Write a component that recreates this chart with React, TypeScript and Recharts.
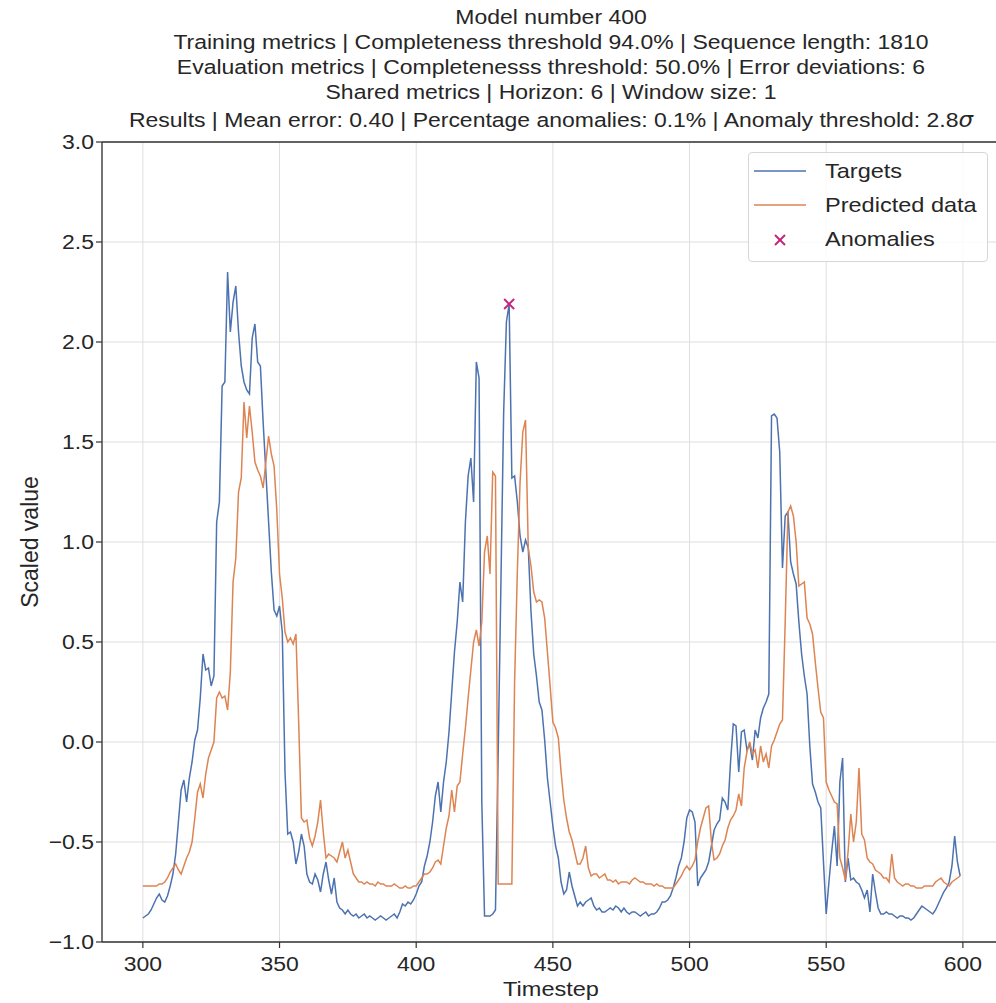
import { ComposedChart, Line, Scatter, XAxis, YAxis, CartesianGrid, ReferenceLine } from 'recharts'

// 時系列の先頭ステップ
const FIRST_STEP = 300

// 実測値（Targets）
const TARGETS = [
  -0.88, -0.87, -0.86, -0.84, -0.81, -0.78, -0.76, -0.79, -0.80, -0.77,
  -0.72, -0.66, -0.56, -0.40, -0.24, -0.19, -0.30, -0.18, -0.10, 0.01,
  0.06, 0.22, 0.44, 0.36, 0.37, 0.28, 0.33, 1.10, 1.20, 1.78,
  1.80, 2.35, 2.05, 2.20, 2.28, 2.05, 1.88, 1.80, 1.76, 1.74,
  2.02, 2.09, 1.90, 1.88, 1.60, 1.35, 1.10, 0.85, 0.66, 0.63,
  0.68, 0.55, -0.15, -0.46, -0.45, -0.50, -0.61, -0.55, -0.46, -0.52,
  -0.66, -0.70, -0.71, -0.66, -0.69, -0.75, -0.66, -0.60, -0.69, -0.76,
  -0.68, -0.80, -0.83, -0.84, -0.86, -0.84, -0.86, -0.87, -0.86, -0.88,
  -0.87, -0.86, -0.88, -0.87, -0.88, -0.89, -0.88, -0.87, -0.88, -0.89,
  -0.88, -0.87, -0.86, -0.88, -0.85, -0.81, -0.82, -0.80, -0.81, -0.79,
  -0.76, -0.72, -0.70, -0.62, -0.57, -0.50, -0.40, -0.27, -0.20, -0.35,
  -0.20, -0.10, 0.05, 0.25, 0.45, 0.60, 0.80, 0.70, 1.10, 1.33,
  1.42, 1.20, 1.90, 1.82, -0.30, -0.87, -0.87, -0.87, -0.86, -0.84,
  -0.05, 0.80, 1.65, 2.10, 2.19, 1.32, 1.33, 1.20, 1.03, 0.95,
  1.01, 0.97, 0.65, 0.44, 0.33, 0.20, 0.16, 0.01, -0.18, -0.30,
  -0.42, -0.52, -0.58, -0.70, -0.76, -0.74, -0.65, -0.72, -0.77, -0.82,
  -0.80, -0.82, -0.80, -0.79, -0.78, -0.82, -0.84, -0.83, -0.85, -0.85,
  -0.84, -0.83, -0.84, -0.82, -0.83, -0.85, -0.83, -0.85, -0.86, -0.85,
  -0.85, -0.86, -0.87, -0.86, -0.85, -0.87, -0.86, -0.86, -0.85, -0.83,
  -0.80, -0.80, -0.79, -0.77, -0.73, -0.68, -0.62, -0.58, -0.50, -0.38,
  -0.34, -0.35, -0.40, -0.72, -0.68, -0.66, -0.64, -0.60, -0.52, -0.44,
  -0.41, -0.39, -0.28, -0.30, -0.34, -0.10, 0.09, 0.08, -0.15, 0.05,
  0.06, -0.04, -0.01, -0.09, 0.06, 0.02, 0.12, 0.17, 0.20, 0.24,
  1.63, 1.64, 1.62, 1.45, 0.87, 1.13, 1.15, 0.90, 0.84, 0.79,
  0.60, 0.44, 0.33, 0.24, -0.02, -0.21, -0.25, -0.30, -0.33, -0.60,
  -0.86, -0.70, -0.55, -0.42, -0.62, -0.20, -0.08, -0.70, -0.58, -0.69,
  -0.68, -0.70, -0.71, -0.74, -0.78, -0.74, -0.85, -0.66, -0.75, -0.83,
  -0.86, -0.86, -0.85, -0.86, -0.86, -0.87, -0.88, -0.87, -0.87, -0.88,
  -0.88, -0.89, -0.88, -0.86, -0.84, -0.82, -0.83, -0.84, -0.85, -0.86,
  -0.84, -0.81, -0.78, -0.75, -0.73, -0.70, -0.62, -0.47, -0.60, -0.67,
]

// 予測値（Predicted data）
const PREDICTED = [
  -0.72, -0.72, -0.72, -0.72, -0.72, -0.72, -0.71, -0.71, -0.70, -0.68,
  -0.65, -0.63, -0.61, -0.64, -0.66, -0.62, -0.58, -0.55, -0.50, -0.38,
  -0.25, -0.21, -0.28, -0.16, -0.08, -0.04, 0.00, 0.22, 0.25, 0.22,
  0.23, 0.16, 0.35, 0.80, 0.92, 1.25, 1.32, 1.70, 1.52, 1.68,
  1.55, 1.40, 1.36, 1.33, 1.27, 1.40, 1.53, 1.44, 1.38, 1.16,
  0.84, 0.72, 0.55, 0.50, 0.52, 0.49, 0.54, 0.10, -0.38, -0.40,
  -0.39, -0.48, -0.52, -0.47, -0.40, -0.29, -0.45, -0.58, -0.56, -0.57,
  -0.58, -0.60, -0.55, -0.50, -0.58, -0.54, -0.60, -0.66, -0.68, -0.70,
  -0.70, -0.71, -0.70, -0.71, -0.71, -0.72, -0.70, -0.71, -0.71, -0.72,
  -0.72, -0.72, -0.71, -0.72, -0.73, -0.73, -0.72, -0.73, -0.73, -0.72,
  -0.72, -0.70, -0.68, -0.66, -0.66, -0.65, -0.63, -0.60, -0.59, -0.61,
  -0.52, -0.43, -0.37, -0.24, -0.35, -0.22, -0.20, -0.06, 0.07, 0.22,
  0.36, 0.50, 0.56, 0.48, 0.60, 0.95, 1.03, 0.84, 1.35, 1.33,
  -0.71, -0.71, -0.71, -0.71, -0.71, -0.71, 0.30, 0.85, 1.30, 1.55,
  1.61, 0.97, 0.88, 0.75, 0.70, 0.71, 0.70, 0.62, 0.45, 0.28,
  0.10, 0.07, 0.02, -0.15, -0.29, -0.38, -0.45, -0.49, -0.55, -0.61,
  -0.61, -0.58, -0.52, -0.63, -0.67, -0.66, -0.66, -0.68, -0.67, -0.66,
  -0.69, -0.69, -0.70, -0.69, -0.71, -0.70, -0.70, -0.70, -0.71, -0.69,
  -0.68, -0.69, -0.70, -0.70, -0.71, -0.71, -0.71, -0.72, -0.71, -0.72,
  -0.72, -0.73, -0.73, -0.73, -0.73, -0.71, -0.69, -0.67, -0.64, -0.62,
  -0.64, -0.62, -0.59, -0.50, -0.43, -0.38, -0.33, -0.32, -0.50, -0.59,
  -0.58, -0.56, -0.52, -0.49, -0.43, -0.39, -0.37, -0.34, -0.26, -0.32,
  -0.13, -0.05, 0.00, -0.06, -0.04, -0.13, -0.02, -0.10, -0.06, -0.13,
  -0.02, 0.01, 0.05, 0.09, 0.11, 0.60, 1.15, 1.18, 1.13, 1.00,
  0.78, 0.79, 0.80, 0.62, 0.59, 0.54, 0.40, 0.27, 0.15, 0.12,
  -0.20, -0.24, -0.27, -0.30, -0.31, -0.58, -0.63, -0.69, -0.55, -0.36,
  -0.50, -0.40, -0.13, -0.46, -0.49, -0.58, -0.60, -0.61, -0.64, -0.65,
  -0.66, -0.68, -0.68, -0.70, -0.56, -0.68, -0.70, -0.71, -0.72, -0.71,
  -0.71, -0.72, -0.72, -0.73, -0.73, -0.73, -0.72, -0.72, -0.72, -0.72,
  -0.70, -0.69, -0.68, -0.70, -0.71, -0.72, -0.70, -0.69, -0.68, -0.67,
]

// 異常と判定されたステップ
const ANOMALY_STEPS = [434]

const X_TICKS = [300, 350, 400, 450, 500, 550, 600]
const Y_TICKS = [-1, -0.5, 0, 0.5, 1, 1.5, 2, 2.5, 3]

const TITLE_LINES = [
  'Model number 400',
  'Training metrics | Completeness threshold 94.0% | Sequence length: 1810',
  'Evaluation metrics | Completenesss threshold: 50.0% | Error deviations: 6',
  'Shared metrics | Horizon: 6 | Window size: 1',
  'Results | Mean error: 0.40 | Percentage anomalies: 0.1% | Anomaly threshold: 2.8',
]

const BLUE = '#4c72b0'
const ORANGE = '#dd8452'
const MAGENTA = '#c2287e'
const INK = '#262626'
const FONT = '"Liberation Sans", Arial, sans-serif'
const FS = 20.5
// 元画像は横方向にやや引き伸ばされているので文字も横に伸ばす
const SX = 1.12

const chartData = TARGETS.map((v, i) => ({
  t: FIRST_STEP + i,
  targets: v,
  predicted: PREDICTED[i],
}))

const anomalyData = ANOMALY_STEPS.map((t) => ({
  t,
  anomaly: TARGETS[t - FIRST_STEP],
}))

const fmt = (v: number) => (v < 0 ? '\u2212' + Math.abs(v).toFixed(1) : v.toFixed(1))

function XTick({ x, y, payload }: any) {
  return (
    <text
      transform={`translate(${x},${y + 23}) scale(${SX},1)`}
      textAnchor="middle"
      fontSize={FS}
      fill={INK}
      fontFamily={FONT}
    >
      {payload.value}
    </text>
  )
}

function YTick({ x, y, payload }: any) {
  return (
    <text
      transform={`translate(${x - 2},${y + 7}) scale(${SX},1)`}
      textAnchor="end"
      fontSize={FS}
      fill={INK}
      fontFamily={FONT}
    >
      {fmt(payload.value)}
    </text>
  )
}

function Cross({ cx, cy }: any) {
  const r = 5
  return (
    <g stroke={MAGENTA} strokeWidth={2}>
      <line x1={cx - r} y1={cy - r} x2={cx + r} y2={cy + r} />
      <line x1={cx - r} y1={cy + r} x2={cx + r} y2={cy - r} />
    </g>
  )
}

function LegendBox() {
  const rows = [
    { label: 'Targets', kind: 'line', color: BLUE },
    { label: 'Predicted data', kind: 'line', color: ORANGE },
    { label: 'Anomalies', kind: 'x', color: MAGENTA },
  ]
  return (
    <div
      style={{
        position: 'absolute',
        left: 748,
        top: 152,
        width: 240,
        height: 110,
        boxSizing: 'border-box',
        border: '1px solid #d6d6d6',
        borderRadius: 4,
        background: 'rgba(255,255,255,0.85)',
      }}
    >
      {rows.map((r, i) => (
        <div
          key={r.label}
          style={{ position: 'absolute', left: 0, top: 3 + i * 34, height: 30, width: 240 }}
        >
          <svg width={60} height={30} style={{ position: 'absolute', left: 4, top: 0 }}>
            {r.kind === 'line' ? (
              <line x1={1} y1={15} x2={53} y2={15} stroke={r.color} strokeWidth={1.6} />
            ) : (
              <Cross cx={27} cy={16} />
            )}
          </svg>
          <span
            style={{
              position: 'absolute',
              left: 76,
              top: 0,
              lineHeight: '30px',
              fontSize: FS + 0.5,
              color: INK,
              fontFamily: FONT,
              whiteSpace: 'nowrap',
              transform: `scaleX(${SX})`,
              transformOrigin: 'left center',
            }}
          >
            {r.label}
          </span>
        </div>
      ))}
    </div>
  )
}

export default function App() {
  const titleCenters = [17, 42, 67, 92, 120]
  return (
    <div
      style={{
        position: 'absolute',
        left: 0,
        top: 0,
        width: 996,
        height: 1003,
        overflow: 'hidden',
        background: '#fff',
        fontFamily: FONT,
      }}
    >
      {TITLE_LINES.map((line, i) => (
        <div
          key={i}
          style={{
            position: 'absolute',
            left: 551,
            top: titleCenters[i] - 13,
            transform: `translateX(-50%) scaleX(${SX})`,
            whiteSpace: 'nowrap',
            fontSize: FS,
            lineHeight: '26px',
            color: INK,
          }}
        >
          {line}
          {i === TITLE_LINES.length - 1 && (
            <span style={{ fontStyle: 'italic', fontFamily: '"DejaVu Sans", sans-serif' }}>σ</span>
          )}
        </div>
      ))}

      <div style={{ position: 'absolute', left: 0, top: 0 }}>
        <ComposedChart
          width={1010}
          height={1003}
          data={chartData}
          margin={{ top: 142, right: 9, bottom: 0, left: 0 }}
        >
          <CartesianGrid stroke="#dedede" strokeWidth={1} />
          <XAxis
            dataKey="t"
            type="number"
            domain={[285.05, 613.95]}
            allowDataOverflow
            ticks={X_TICKS}
            interval={0}
            height={61}
            tickSize={6}
            tickMargin={0}
            tick={<XTick />}
            axisLine={{ stroke: '#333', strokeWidth: 1.3 }}
            tickLine={{ stroke: '#333', strokeWidth: 1.2 }}
          />
          <YAxis
            type="number"
            domain={[-1, 3]}
            allowDataOverflow
            ticks={Y_TICKS}
            interval={0}
            width={102}
            tickSize={6}
            tickMargin={0}
            tick={<YTick />}
            axisLine={{ stroke: '#333', strokeWidth: 1.3 }}
            tickLine={{ stroke: '#333', strokeWidth: 1.2 }}
          />
          <ReferenceLine y={3} stroke="#333" strokeWidth={1.3} />
          <Line
            type="linear"
            dataKey="targets"
            stroke={BLUE}
            strokeWidth={1.5}
            dot={false}
            isAnimationActive={false}
          />
          <Line
            type="linear"
            dataKey="predicted"
            stroke={ORANGE}
            strokeWidth={1.5}
            dot={false}
            isAnimationActive={false}
          />
          <Scatter
            data={anomalyData}
            dataKey="anomaly"
            shape={<Cross />}
            isAnimationActive={false}
          />
        </ComposedChart>
      </div>

      <LegendBox />

      <div
        style={{
          position: 'absolute',
          left: 30,
          top: 542,
          transform: 'translate(-50%, -50%) rotate(-90deg)',
          whiteSpace: 'nowrap',
          fontSize: 23,
          color: INK,
        }}
      >
        Scaled value
      </div>
      <div
        style={{
          position: 'absolute',
          left: 551,
          top: 989,
          transform: `translate(-50%, -50%) scaleX(${SX})`,
          whiteSpace: 'nowrap',
          fontSize: FS + 0.5,
          color: INK,
        }}
      >
        Timestep
      </div>
    </div>
  )
}
